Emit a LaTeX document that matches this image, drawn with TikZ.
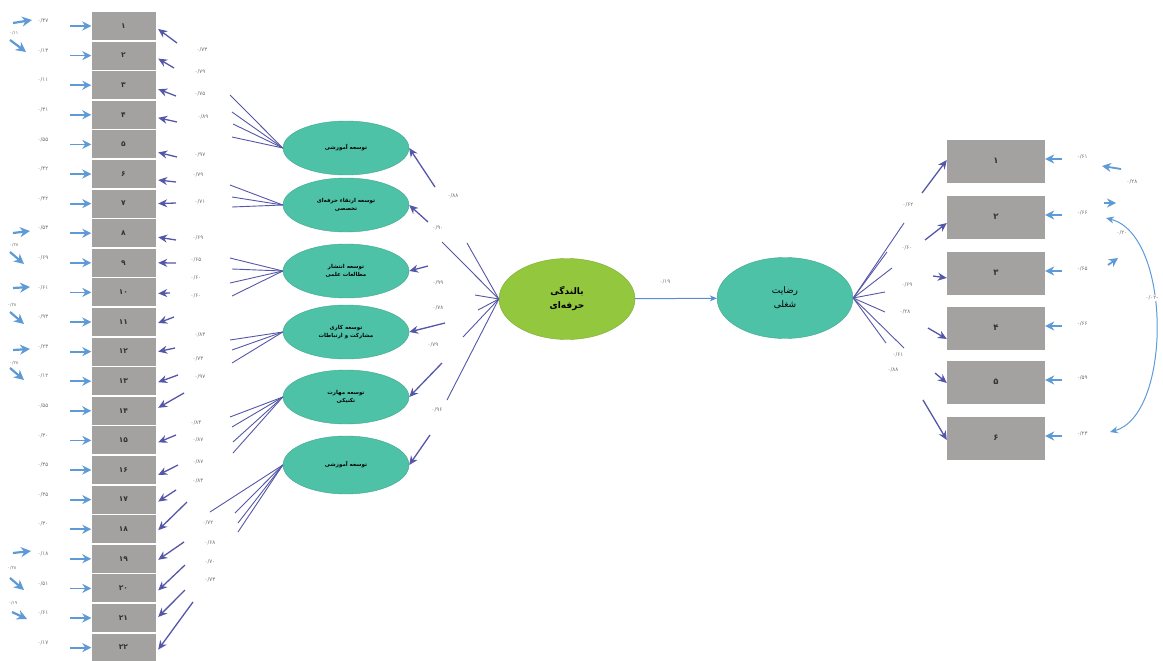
\documentclass[tikz,border=0pt]{standalone}
\usepackage{fontspec}
\newfontfamily\arabicfont[Script=Arabic]{DejaVu Sans}
\TeXXeTstate=1
\usetikzlibrary{shapes.geometric,arrows.meta,calc}
\newcommand{\fa}[1]{\beginR #1\endR}
\definecolor{tealc}{HTML}{4EC2A7}
\definecolor{greenc}{HTML}{93C83E}
\definecolor{boxg}{HTML}{A4A2A0}
\definecolor{darkb}{HTML}{5456A8}
\definecolor{lblue}{HTML}{5E9AD6}
\definecolor{labg}{HTML}{6E6E6E}
\begin{document}
\begin{tikzpicture}[x=1pt,y=-1pt,
  box/.style={rectangle,fill=boxg,minimum width=64pt,minimum height=28pt,inner sep=0pt,font=\arabicfont\bfseries\fontsize{7.5}{8}\selectfont,text=black!80},
  rbox/.style={box,minimum width=98pt,minimum height=43pt,font=\arabicfont\bfseries\fontsize{8.5}{9}\selectfont},
  lat/.style={ellipse,fill=tealc,draw=tealc!85!black,line width=0.4pt,minimum width=126pt,minimum height=54pt,inner sep=0pt,align=center,font=\arabicfont\bfseries\fontsize{5.5}{8}\selectfont},
  big/.style={ellipse,draw=#1!85!black,fill=#1,line width=0.4pt,minimum width=136pt,minimum height=81pt,inner sep=0pt,align=center,font=\arabicfont\fontsize{9}{14}\selectfont},
  darr/.style={draw=darkb,line width=1.3pt,-{Stealth[length=9pt,width=8pt]}},
  fan/.style={draw=darkb,line width=0.9pt},
  larr/.style={draw=lblue,line width=1.8pt,-{Stealth[length=9pt,width=9pt]}},
  barr/.style={draw=lblue,line width=2.2pt,-{Stealth[length=10pt,width=10pt]}},
  lab/.style={font=\arabicfont\fontsize{5.5}{6}\selectfont,text=labg,inner sep=0.5pt},
  slab/.style={lab,font=\arabicfont\fontsize{4.5}{5}\selectfont}
]
\useasboundingbox (0,0) rectangle (1163,661);

% ---------- left indicator boxes ----------
\foreach \i/\t in {1/۱,2/۲,3/۳,4/۴,5/۵,6/۶,7/۷,8/۸,9/۹,10/۱۰,11/۱۱,12/۱۲,13/۱۳,14/۱۴,15/۱۵,16/۱۶,17/۱۷,18/۱۸,19/۱۹,20/۲۰,21/۲۱,22/۲۲}
  \node[box] (b\i) at (123.5,{26+(\i-1)*29.6}) {\t};

% error arrows on the left
\foreach \i/\v in {1/۴۷,2/۱۳,3/۱۱,4/۳۱,5/۵۵,6/۴۲,7/۴۲,8/۵۳,9/۶۹,10/۶۱,11/۹۳,12/۲۳,13/۱۲,14/۵۵,15/۳۰,16/۳۵,17/۳۵,18/۳۰,19/۱۸,20/۵۱,21/۶۱,22/۱۷} {
  \coordinate (et\i) at (70,{26+(\i-1)*29.6});
  \draw[larr] (et\i) -- (b\i.west);
  \node[lab] (el\i) at (43,{21+(\i-1)*29.6}) {۰/\v};
}

% correlated error marks at far left
\foreach \k/\ax/\ay/\bx/\by in {1/13/23/32/20,2/10/40/26/52,3/13/233/30/231,4/10/252/24/264,5/13/288/30/287,6/10/312/24/324,7/13/350/30/349,8/10/368/24/380,9/13/553/31/551,10/10/578/24/590,11/12/612/27/619} {
  \coordinate (ca\k) at (\ax,\ay);
  \coordinate (cb\k) at (\bx,\by);
  \draw[barr] (ca\k) -- (cb\k);
}
\node[slab] (sl1) at (14,33) {۰/۱۱};
\node[slab] (sl2) at (14,245) {۰/۲۸};
\node[slab] (sl3) at (12,305) {۰/۲۸};
\node[slab] (sl4) at (14,363) {۰/۲۸};
\node[slab] (sl5) at (12,568) {۰/۲۸};
\node[slab] (sl6) at (13,603) {۰/۱۹};

% loading arrows into left boxes
\foreach \i/\tx/\ty/\dy in {1/177/43/3,2/174/68/3,3/176/96/4,4/177/122/3,5/177/157/8,6/176/182/6,7/176/203/0,8/176/240/4,9/176/263/0,10/170/293/1,11/174/317/1,12/175/348/0,13/178/375/1,14/184/393/-3,15/176/435/2,16/178/465/5,17/176/490/2,18/187/502/1,19/184/542/1,20/185/565/2,21/185/590/-1,22/193/602/2} {
  \coordinate (lt\i) at (\tx,\ty);
  \draw[darr] (lt\i) -- ($(b\i.east)+(2.5,\dy)$);
}

% loading labels
\foreach \i/\x/\y/\v in {1/202/50/۷۳,2/200/72/۷۹,3/200/94/۷۵,4/203/117/۸۹,5/200/155/۹۷,6/198/175/۷۹,7/200/202/۷۱,8/198/238/۶۹,9/196/260/۶۵,10/196/278/۶۰,11/196/296/۶۰,12/200/335/۸۳,13/198/359/۷۳,14/200/377/۹۷,15/196/423/۸۴,16/198/440/۸۷,17/198/462/۸۷,18/198/481/۸۴,19/208/523/۷۲,20/210/543/۶۸,21/210/562/۷۰,22/210/580/۷۳}
  \node[lab] (ll\i) at (\x,\y) {۰/\v};

% ---------- first-order latent ellipses ----------
\node[lat] (e1) at (346,148) {\fa{توسعه آموزشی}};
\node[lat] (e2) at (346,205) {\fa{توسعه ارتقاء حرفه‌ای}\\\fa{تخصصی}};
\node[lat] (e3) at (346,271) {\fa{توسعه انتشار}\\\fa{مطالعات علمی}};
\node[lat] (e4) at (346,332) {\fa{توسعه کاری}\\\fa{مشارکت و ارتباطات}};
\node[lat] (e5) at (346,397) {\fa{توسعه مهارت}\\\fa{تکنیکی}};
\node[lat,minimum height=58pt] (e6) at (346,465) {\fa{توسعه آموزشی}};

% fan lines from ellipses to the left
\foreach \j/\x/\y in {1/230/95,2/232/112,3/233/124,4/232/137} {\coordinate (fa\j) at (\x,\y); \draw[fan] (fa\j) -- (e1.west);}
\foreach \j/\x/\y in {1/230/185,2/232/197,3/232/207} {\coordinate (fb\j) at (\x,\y); \draw[fan] (fb\j) -- (e2.west);}
\foreach \j/\x/\y in {1/230/258,2/232/269,3/230/283,4/232/296} {\coordinate (fc\j) at (\x,\y); \draw[fan] (fc\j) -- (e3.west);}
\foreach \j/\x/\y in {1/230/340,2/232/350,3/232/363} {\coordinate (fd\j) at (\x,\y); \draw[fan] (fd\j) -- (e4.west);}
\foreach \j/\x/\y in {1/230/417,2/232/427,3/233/442,4/233/453} {\coordinate (fe\j) at (\x,\y); \draw[fan] (fe\j) -- (e5.west);}
\foreach \j/\x/\y in {1/210/512,2/235/513,3/238/523,4/238/532} {\coordinate (ff\j) at (\x,\y); \draw[fan] (ff\j) -- (e6.west);}

% ---------- second-order latent ----------
\node[big=greenc,font=\arabicfont\bfseries\fontsize{9}{14}\selectfont] (g) at (567,299) {\fa{بالندگی}\\\fa{حرفه‌ای}};
\node[big=tealc] (r) at (785,298) {\fa{رضایت}\\\fa{شغلی}};

\foreach \j/\x/\y in {1/442/242,2/467/243,3/475/295,4/478/310,5/463/337,6/447/400} {\coordinate (gf\j) at (\x,\y); \draw[fan] (gf\j) -- (g.west);}

\foreach \j/\x/\y in {1/435/187,2/428/222,3/428/266,4/445/323,5/442/363,6/430/435} {\coordinate (ga\j) at (\x,\y); \draw[darr] (ga\j) -- (e\j.east);}

\node[lab] (gl1) at (453,196) {۰/۸۸};
\node[lab] (gl2) at (438,228) {۰/۹۰};
\node[lab] (gl3) at (438,283) {۰/۹۹};
\node[lab] (gl4) at (438,308) {۰/۷۸};
\node[lab] (gl5) at (433,345) {۰/۷۹};
\node[lab] (gl6) at (437,410) {۰/۹۶};

\draw[draw=lblue!80!darkb,line width=1pt,-{Stealth[length=7pt,width=6pt]}] (g) -- (r);
\node[lab] (grl) at (665,282) {۰/۱۹};

% ---------- right indicator boxes ----------
\foreach \i/\y/\t in {1/161/۱,2/217/۲,3/273/۳,4/328/۴,5/382/۵,6/438/۶}
  \node[rbox] (rb\i) at (996,\y) {\t};

\foreach \j/\x/\y in {1/904/223,2/887/252,3/892/268,4/885/292,5/885/312,6/904/348,7/886/343} {\coordinate (rf\j) at (\x,\y); \draw[fan] (r.east) -- (rf\j);}

\foreach \i/\x/\y/\dy in {1/922/193/-1,2/925/240/6,3/933/276/5,4/928/328/11,5/935/373/1,6/923/400/2} {
  \coordinate (ra\i) at (\x,\y);
  \draw[darr] (ra\i) -- ($(rb\i.west)+(0,\dy)$);
}
\node[lab] (rl1) at (908,205) {۰/۶۲};
\node[lab] (rl2) at (907,248) {۰/۶۰};
\node[lab] (rl3) at (907,285) {۰/۶۹};
\node[lab] (rl4) at (905,312) {۰/۲۸};
\node[lab] (rl5) at (898,355) {۰/۶۱};
\node[lab] (rl6) at (893,370) {۰/۸۸};

\foreach \i/\v in {1/۶۱,2/۶۶,3/۶۵,4/۶۶,5/۵۹,6/۲۳} {
  \coordinate (re\i) at ($(rb\i.east)+(17,-2)$);
  \draw[larr] (re\i) -- ($(rb\i.east)+(0,-2)$);
  \node[lab] (rel\i) at ($(rb\i.east)+(37,-4)$) {۰/\v};
}

% extra error covariances on the right
\coordinate (x1a) at (1121,169); \coordinate (x1b) at (1102,166);
\draw[larr] (x1a) -- (x1b);
\node[lab] (xl1) at (1132,182) {۰/۲۸};
\coordinate (x2a) at (1104,203); \coordinate (x2b) at (1116,203);
\draw[larr] (x2a) -- (x2b);
\coordinate (x3a) at (1108,265); \coordinate (x3b) at (1118,258);
\draw[larr] (x3a) -- (x3b);
\node[lab] (xl2) at (1122,233) {۰/۲۰};
\coordinate (cv1) at (1106,218); \coordinate (cv2) at (1110,432);
\draw[draw=lblue,line width=1pt,{Stealth[length=8pt,width=7pt]}-{Stealth[length=8pt,width=7pt]}] (cv1) .. controls (1172,235) and (1172,415) .. (cv2);
\node[lab,fill=white] (xl3) at (1152,298) {-۰/۰۲};
\end{tikzpicture}
\end{document}
